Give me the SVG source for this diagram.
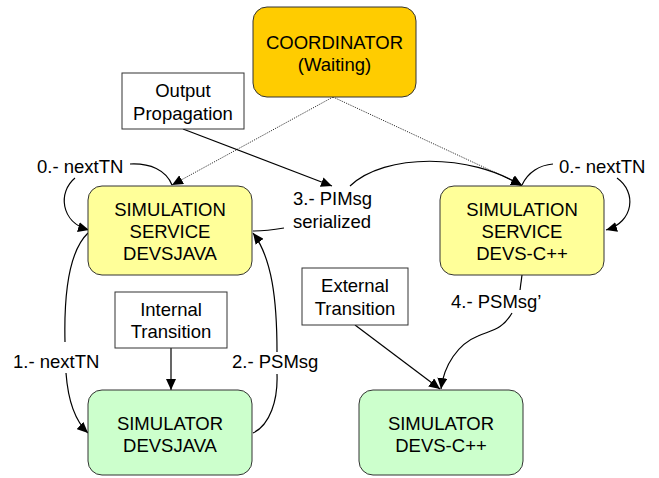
<svg xmlns="http://www.w3.org/2000/svg" width="659" height="478" viewBox="0 0 659 478">
<defs>
<marker id="arr" markerUnits="userSpaceOnUse" markerWidth="12" markerHeight="10" refX="11" refY="5" orient="auto"><path d="M0,0 L11,5 L0,10 z" fill="#000"/></marker>
<style>
text{font-family:"Liberation Sans",Arial,sans-serif;font-size:18.5px;fill:#000;text-anchor:middle}
.lbl{text-anchor:start}
.node{stroke:#333;stroke-width:1}
.coord{fill:#FFCC00}
.svc{fill:#FFFF99}
.sim{fill:#CCFFCC}
.note{fill:#fff;stroke:#333;stroke-width:1}
.c{fill:none;stroke:#000;stroke-width:1.2}
.d{fill:none;stroke:#333;stroke-width:1;stroke-dasharray:1.2,1.2}
</style>
</defs>
<rect width="659" height="478" fill="#fff"/>
<g id="connectors">
<path class="d" d="M333,97 L172,185" marker-end="url(#arr)"/>
<path class="d" d="M333,97 L522,185" marker-end="url(#arr)"/>
<path class="c" d="M183,129 L332,186" marker-end="url(#arr)"/>
<path class="c" d="M350,186 C385,153 470,153 522,186" marker-end="url(#arr)"/>
<path class="c" d="M284,228 C272,230 263,231 253,231"/>
<path class="c" d="M172,185 C166,170 150,163 130,164"/>
<path class="c" d="M75,178 C58,192 60,222 89,230" marker-end="url(#arr)"/>
<path class="c" d="M522,185 C528,172 540,165 553,164"/>
<path class="c" d="M617,178 C637,192 634,222 606,230" marker-end="url(#arr)"/>
<path class="c" d="M88,233 C68,252 64,300 65,342"/>
<path class="c" d="M66,373 C68,400 74,420 88,433" marker-end="url(#arr)"/>
<path class="c" d="M253,433 C270,425 278,400 277,374"/>
<path class="c" d="M277,352 C277,300 272,258 253,233" marker-end="url(#arr)"/>
<path class="c" d="M171,348 L171,390" marker-end="url(#arr)"/>
<path class="c" d="M355,325 L440,389" marker-end="url(#arr)"/>
<path class="c" d="M522,275 L520,290"/>
<path class="c" d="M512,313 C502,330 492,330 478,336 C458,344 444,365 441,389" marker-end="url(#arr)"/>
</g>
<g id="coordinator"><rect class="node coord" x="253" y="7" width="163" height="90" rx="14"/><text x="334.5" y="49">COORDINATOR</text><text x="334.5" y="71">(Waiting)</text></g>
<g id="output-propagation"><rect class="note" x="122" y="73" width="122" height="56"/><text x="183" y="97">Output</text><text x="183" y="120">Propagation</text></g>
<g id="service-devsjava"><rect class="node svc" x="88" y="186" width="164" height="89" rx="14"/><text x="170" y="216">SIMULATION</text><text x="170" y="238">SERVICE</text><text x="170" y="260">DEVSJAVA</text></g>
<g id="service-devscpp"><rect class="node svc" x="440" y="186" width="164" height="89" rx="14"/><text x="522" y="216">SIMULATION</text><text x="522" y="238">SERVICE</text><text x="522" y="260">DEVS-C++</text></g>
<g id="internal-transition"><rect class="note" x="115" y="292" width="112" height="56"/><text x="171" y="316">Internal</text><text x="171" y="338">Transition</text></g>
<g id="external-transition"><rect class="note" x="302" y="268" width="106" height="57"/><text x="355" y="292">External</text><text x="355" y="315">Transition</text></g>
<g id="simulator-devsjava"><rect class="node sim" x="88" y="390" width="164" height="85" rx="14"/><text x="170" y="430">SIMULATOR</text><text x="170" y="452">DEVSJAVA</text></g>
<g id="simulator-devscpp"><rect class="node sim" x="359" y="390" width="164" height="85" rx="14"/><text x="441" y="430">SIMULATOR</text><text x="441" y="452">DEVS-C++</text></g>
<g id="labels">
<text class="lbl" x="37" y="173">0.- nextTN</text>
<text class="lbl" x="559" y="173">0.- nextTN</text>
<text class="lbl" x="293" y="205">3.- PIMsg</text>
<text class="lbl" x="293" y="228">serialized</text>
<text class="lbl" x="13" y="368">1.- nextTN</text>
<text class="lbl" x="232" y="368">2.- PSMsg</text>
<text class="lbl" x="451" y="308">4.- PSMsg’</text>
</g>
</svg>
